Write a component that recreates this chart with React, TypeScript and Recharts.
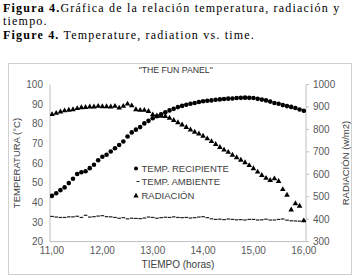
import React from 'react';
import { ComposedChart, Scatter, XAxis, YAxis, Legend } from 'recharts';

// minutos desde las 11:00, lecturas cada 5 min
const MINUTES = [
  0, 5, 10, 15, 20, 25, 30, 35, 40, 45, 50, 55,
  60, 65, 70, 75, 80, 85, 90, 95, 100, 105, 110, 115,
  120, 125, 130, 135, 140, 145, 150, 155, 160, 165, 170, 175,
  180, 185, 190, 195, 200, 205, 210, 215, 220, 225, 230, 235,
  240, 245, 250, 255, 260, 265, 270, 275, 280, 285, 290, 295,
  300,
];

const TEMP_RECIPIENTE = [
  43.3, 44.6, 46.2, 47.6, 49.8, 52.0, 54.4, 55.3, 55.8, 57.4,
  59.1, 61.4, 63.2, 64.2, 65.9, 67.5, 69.2, 71.0, 73.5, 75.6,
  77.0, 78.3, 80.2, 81.5, 82.8, 83.8, 84.8, 85.9, 86.8, 87.6,
  88.5, 89.1, 89.7, 90.2, 90.6, 91.1, 91.5, 91.7, 91.9, 92.2,
  92.4, 92.6, 92.8, 92.9, 93.1, 93.2, 93.3, 93.2, 93.1, 92.7,
  92.3, 91.9, 91.3, 90.6, 90.2, 89.5, 89.0, 88.6, 88.0, 87.3,
  86.6,
];

const TEMP_AMBIENTE = [
  32.8, 32.5, 32.3, 32.3, 32.6, 32.6, 32.9, 32.3, 33.4, 32.5,
  32.7, 33.0, 33.2, 32.7, 32.6, 32.3, 31.9, 32.2, 31.6, 31.9,
  31.8, 31.7, 32.0, 32.5, 32.3, 31.9, 32.2, 32.4, 32.3, 32.6,
  32.3, 32.2, 32.3, 32.0, 32.2, 32.5, 32.7, 32.2, 31.6, 31.3,
  31.4, 31.2, 31.5, 31.3, 31.1, 31.2, 31.0, 31.3, 31.3, 31.0,
  31.1, 31.4, 31.0, 31.0, 31.3, 31.5, 30.9, 30.6, 30.5, 30.4,
  30.4,
];

const RADIACION = [
  868, 874, 880, 885, 888, 890, 895, 899, 900, 902,
  902, 905, 903, 903, 902, 905, 897, 905, 915, 907,
  890, 887, 887, 882, 867, 862, 861, 860, 852, 842,
  832, 822, 811, 800, 790, 782, 772, 760, 748, 735,
  722, 710, 700, 687, 676, 665, 654, 641, 627, 612,
  597, 584, 575, 582, 570, 534, 509, 443, 471, 460,
  395,
];

const X_TICKS = [11, 12, 13, 14, 15, 16];
const TEMP_TICKS = [20, 30, 40, 50, 60, 70, 80, 90, 100];
const RAD_TICKS = [300, 400, 500, 600, 700, 800, 900, 1000];
const SERIES_NAMES = ['TEMP. RECIPIENTE', 'TEMP. AMBIENTE', 'RADIACIÓN'];

const toRows = (values: number[]) =>
  MINUTES.map((m, i) => ({ hora: 11 + m / 60, valor: values[i] }));

const SANS = '"Liberation Sans", Arial, sans-serif';
const SERIF = '"Liberation Serif", "Times New Roman", serif';
const AXIS_GRAY = '#bfbfbf';
const TICK_STYLE = { fontSize: 10, fill: '#595959', fontFamily: SANS };

const Dot = (p: any) => <circle cx={p.cx} cy={p.cy} r={2.3} fill="#000" />;
const Dash = (p: any) => (
  <rect x={p.cx - 1.8} y={p.cy - 0.6} width={3.6} height={1.2} fill="#222" />
);
const Tri = (p: any) => (
  <path
    d={`M${p.cx},${p.cy - 2.9}L${p.cx + 2.8},${p.cy + 2}L${p.cx - 2.8},${p.cy + 2}Z`}
    fill="#000"
  />
);

const legendIcons = [
  <circle cx={4} cy={4.5} r={2} fill="#000" />,
  <rect x={4.5} y={4} width={3} height={1} fill="#222" />,
  <path d="M4,1.8L6.6,6.4L1.4,6.4Z" fill="#000" />,
];

const renderLegend = () => (
  <div style={{ fontFamily: SANS, fontSize: 9.5, color: '#404040' }}>
    {SERIES_NAMES.map((name, i) => (
      <div key={name} style={{ height: 13.5, display: 'flex', alignItems: 'center' }}>
        <svg width={8} height={9} style={{ marginRight: 1.5 }}>
          {legendIcons[i]}
        </svg>
        <span style={{ whiteSpace: 'nowrap' }}>{name}</span>
      </div>
    ))}
  </div>
);

const captionLine = (top: number): React.CSSProperties => ({
  position: 'absolute',
  left: 3,
  top,
  fontFamily: SERIF,
  fontSize: 12,
  lineHeight: '13.3px',
  letterSpacing: 1.2,
  color: '#000',
  whiteSpace: 'nowrap',
});

const Caption = () => (
  <>
    <div style={captionLine(2)}>
      <b>Figura 4.</b>Gráfica de la relación temperatura, radiación y
    </div>
    <div style={captionLine(15.3)}>tiempo.</div>
    <div style={captionLine(28.6)}>
      <b>Figure 4.</b> Temperature, radiation vs. time.
    </div>
  </>
);

export default function App() {
  return (
    <div
      style={{
        position: 'absolute',
        left: 0,
        top: 0,
        width: 359,
        height: 280,
        background: '#fff',
        overflow: 'hidden',
      }}
    >
      <Caption />
      <div
        style={{
          position: 'absolute',
          left: 8,
          top: 63,
          width: 344,
          height: 212,
          boxSizing: 'border-box',
          border: '1px solid #d0d0d0',
        }}
      />
      <div
        style={{
          position: 'absolute',
          left: 100,
          top: 64,
          width: 151.4,
          textAlign: 'center',
          fontFamily: SANS,
          fontSize: 8.7,
          lineHeight: '12px',
          color: '#333',
        }}
      >
        "THE FUN PANEL"
      </div>
      <div style={{ position: 'absolute', left: 8, top: 63 }}>
        <ComposedChart
          width={344}
          height={212}
          margin={{ top: 21.5, right: 0, bottom: 0, left: 0 }}
        >
          <XAxis
            dataKey="hora"
            type="number"
            domain={[10.96, 16.044]}
            ticks={X_TICKS}
            allowDataOverflow
            tickFormatter={(v: number) => v.toFixed(2).replace('.', ',')}
            height={33.4}
            tickLine={false}
            tickSize={0}
            tickMargin={5}
            axisLine={{ stroke: AXIS_GRAY }}
            tick={TICK_STYLE}
            label={{
              value: 'TIEMPO (horas)',
              position: 'insideBottom',
              offset: 7,
              fill: '#404040',
              fontSize: 10,
              fontFamily: SANS,
            }}
          />
          <YAxis
            yAxisId="temp"
            orientation="left"
            type="number"
            domain={[20, 100]}
            ticks={TEMP_TICKS}
            allowDataOverflow
            width={42}
            tickLine={false}
            tickSize={0}
            tickMargin={7}
            axisLine={{ stroke: AXIS_GRAY }}
            tick={TICK_STYLE}
            label={{
              value: 'TEMPERATURA (°C)',
              angle: -90,
              position: 'insideLeft',
              offset: 8.7,
              fill: '#404040',
              fontSize: 9.5,
              fontFamily: SANS,
              style: { textAnchor: 'middle' },
            }}
          />
          <YAxis
            yAxisId="rad"
            orientation="right"
            type="number"
            domain={[300, 1000]}
            ticks={RAD_TICKS}
            allowDataOverflow
            width={46}
            tickLine={{ stroke: AXIS_GRAY }}
            tickSize={3}
            tickMargin={4}
            axisLine={{ stroke: AXIS_GRAY }}
            tick={TICK_STYLE}
            label={{
              value: 'RADIACIÓN (w/m2)',
              angle: -90,
              position: 'insideRight',
              offset: 6,
              fill: '#404040',
              fontSize: 9.5,
              fontFamily: SANS,
              style: { textAnchor: 'middle' },
            }}
          />
          <Legend
            layout="vertical"
            align="center"
            verticalAlign="middle"
            wrapperStyle={{ left: 124, top: 98.25, width: 140 }}
            content={renderLegend}
          />
          <Scatter
            name={SERIES_NAMES[0]}
            data={toRows(TEMP_RECIPIENTE)}
            dataKey="valor"
            yAxisId="temp"
            shape={Dot}
            isAnimationActive={false}
          />
          <Scatter
            name={SERIES_NAMES[1]}
            data={toRows(TEMP_AMBIENTE)}
            dataKey="valor"
            yAxisId="temp"
            shape={Dash}
            isAnimationActive={false}
          />
          <Scatter
            name={SERIES_NAMES[2]}
            data={toRows(RADIACION)}
            dataKey="valor"
            yAxisId="rad"
            shape={Tri}
            isAnimationActive={false}
          />
        </ComposedChart>
      </div>
    </div>
  );
}
